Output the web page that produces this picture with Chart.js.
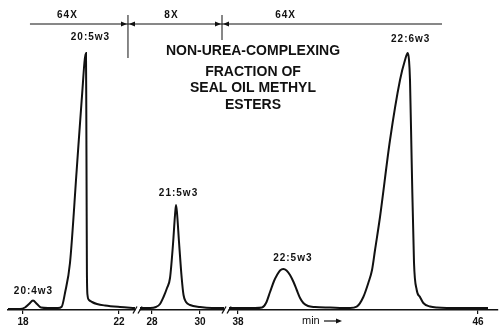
<!DOCTYPE html>
<html>
<head>
<meta charset="utf-8">
<script src="https://cdn.jsdelivr.net/npm/chart.js@4"></script>
<style>
  html, body { margin: 0; padding: 0; background: #fff; }
  canvas { display: block; }
</style>
</head>
<body>
<canvas id="chromatogram" width="500" height="327"></canvas>
<script>
// retention time (min) and detector response along the recorder trace
const traceMinutes = [
  17.375, 17.875, 18.083, 18.25, 18.417, 18.583, 18.75, 19.042, 19.458, 19.613,
  19.75, 19.958, 20.238, 20.446, 20.625, 20.638, 20.65, 20.663, 20.688, 20.75,
  20.875, 21.083, 21.417, 22.042, 22.667,
  27.5, 27.917, 28.167, 28.333, 28.479, 28.625, 28.75, 28.875, 28.958, 29.0,
  29.042, 29.125, 29.237, 29.313, 29.417, 29.583, 30.0, 30.5, 31.0,
  37.7, 38.567, 38.8, 38.933, 39.067, 39.2, 39.3, 39.4, 39.51, 39.617,
  39.733, 39.85, 39.957, 40.067, 40.177, 40.333, 40.567, 41.067, 41.733, 41.957,
  42.177, 42.343, 42.467, 42.567, 42.733, 43.067, 43.4, 43.567, 43.657, 43.7,
  43.733, 43.79, 43.867, 43.957, 44.067, 44.177, 44.4, 44.633, 45.4, 46.333
];
const traceResponse = [
  1, 1, 2.5, 6, 9.5, 6, 2.5, 2, 2, 3.3,
  17, 47, 140, 210, 257, 200, 120, 40, 15, 10,
  8, 6, 4.5, 3, 2,
  2, 2, 3, 6, 13, 22, 32, 66, 95, 105,
  97, 68, 32, 15, 8, 5, 3, 2, 2,
  2, 2, 2.5, 7, 18, 29, 35, 39.5, 41, 39.5,
  35, 28, 20, 12, 7, 4, 3, 2.5, 2, 3.3,
  13, 27, 40, 60, 93, 170, 230, 250, 257, 250,
  230, 147, 47, 20, 13, 7, 3.5, 2.5, 2, 2
];

// pieces of the time axis kept between the breaks; the last one ran at a faster chart speed
const segmentFrom = [17.375, 27.5, 37.7];
const segmentTo = [22.667, 31.0, 46.667];
const segmentStretch = [1, 1, 1.25];
const BREAK_GAP = 0.21;

const tickMinutes = [18, 22, 28, 30, 38, 46];

const peakNames = ['20:4w3', '20:5w3', '21:5w3', '22:5w3', '22:6w3'];
const peakMinutes = [18.417, 20.625, 29.0, 39.51, 43.657];
const peakLabelShift = [[0, -9.5], [4, -15.5], [2, -12], [9, -10.5], [2.5, -14]];

const attenuationLabels = ['64X', '8X', '64X'];
const attenuationStart = [18.29, 22.375, 30.917];
const attenuationEnd = [22.375, 30.917, 44.8];
const attenuationLabelAt = [19.83, 28.79, 39.57];

const titleLines = ['NON-UREA-COMPLEXING', 'FRACTION OF', 'SEAL OIL METHYL', 'ESTERS'];

const INK = '#111';
const FONT = '"Liberation Sans", Arial, sans-serif';

function segmentOf(t) {
  for (let i = 0; i < segmentTo.length; i++) {
    if (t <= segmentTo[i]) return i;
  }
  return segmentTo.length - 1;
}

// minutes -> position along the broken axis
function toAxis(t) {
  let pos = segmentFrom[0];
  for (let i = 0; i < segmentFrom.length; i++) {
    if (t <= segmentTo[i] || i === segmentFrom.length - 1) {
      return pos + (Math.max(t, segmentFrom[i]) - segmentFrom[i]) * segmentStretch[i];
    }
    pos += (segmentTo[i] - segmentFrom[i]) * segmentStretch[i] + BREAK_GAP;
  }
}

const points = [];
traceMinutes.forEach((t, i) => {
  if (i > 0 && segmentOf(t) !== segmentOf(traceMinutes[i - 1])) {
    points.push({ x: toAxis(t) - BREAK_GAP / 2, y: null });
  }
  points.push({ x: toAxis(t), y: traceResponse[i] });
});

function apexOf(t) {
  let best = 0;
  traceMinutes.forEach((m, i) => {
    if (Math.abs(m - t) < 0.15) best = Math.max(best, traceResponse[i]);
  });
  return best;
}

function arrowHead(ctx, tipX, y, dir) {
  ctx.beginPath();
  ctx.moveTo(tipX, y);
  ctx.lineTo(tipX - dir * 6, y - 2.5);
  ctx.lineTo(tipX - dir * 6, y + 2.5);
  ctx.closePath();
  ctx.fill();
}

const annotate = {
  id: 'annotate',
  afterDraw(chart) {
    const { ctx, scales: { x, y } } = chart;
    const px = t => x.getPixelForValue(toAxis(t));
    const base = y.getPixelForValue(0);
    ctx.save();
    ctx.strokeStyle = INK;
    ctx.fillStyle = INK;

    // breaks in the time axis
    for (let i = 0; i < segmentFrom.length - 1; i++) {
      const a = px(segmentTo[i]);
      const b = px(segmentFrom[i + 1]);
      ctx.fillStyle = '#fff';
      ctx.fillRect(a + 0.5, base - 3, b - a - 1, 6);
      ctx.fillStyle = INK;
      ctx.lineWidth = 1.3;
      [a, b].forEach(cx => {
        ctx.beginPath();
        ctx.moveTo(cx - 2, base + 3.5);
        ctx.lineTo(cx + 2, base - 3.5);
        ctx.stroke();
      });
    }

    // attenuation ranges along the top
    const lineY = 24;
    const markerBottom = [58, 40];
    ctx.lineWidth = 1;
    attenuationLabels.forEach((label, i) => {
      const x0 = px(attenuationStart[i]);
      const x1 = px(attenuationEnd[i]);
      ctx.beginPath();
      ctx.moveTo(x0, lineY);
      ctx.lineTo(x1, lineY);
      ctx.stroke();
      if (i > 0) arrowHead(ctx, x0 + 1, lineY, -1);
      if (i < attenuationLabels.length - 1) {
        arrowHead(ctx, x1 - 1, lineY, 1);
        ctx.beginPath();
        ctx.moveTo(x1, 15);
        ctx.lineTo(x1, markerBottom[i]);
        ctx.stroke();
      }
      ctx.font = 'bold 10px ' + FONT;
      ctx.letterSpacing = '1px';
      ctx.textAlign = 'center';
      ctx.textBaseline = 'middle';
      ctx.fillText(label, px(attenuationLabelAt[i]) + 0.5, 15);
    });

    // title block
    ctx.font = 'bold 14px ' + FONT;
    ctx.letterSpacing = '0px';
    const titleY = [51, 72, 88.5, 105];
    titleLines.forEach((line, i) => ctx.fillText(line, 253, titleY[i]));

    // peak names above each apex
    ctx.font = 'bold 10px ' + FONT;
    ctx.letterSpacing = '1px';
    peakNames.forEach((name, i) => {
      const cx = px(peakMinutes[i]) + peakLabelShift[i][0];
      const cy = y.getPixelForValue(apexOf(peakMinutes[i])) + peakLabelShift[i][1];
      ctx.fillText(name, cx + 0.5, cy);
    });

    // axis caption
    ctx.letterSpacing = '0px';
    ctx.font = '11px ' + FONT;
    ctx.textAlign = 'left';
    ctx.fillText('min', 302, 321);
    ctx.lineWidth = 1.2;
    ctx.beginPath();
    ctx.moveTo(324, 321);
    ctx.lineTo(338, 321);
    ctx.stroke();
    arrowHead(ctx, 342, 321, 1);
    ctx.restore();
  }
};

new Chart(document.getElementById('chromatogram'), {
  type: 'line',
  data: {
    datasets: [{
      data: points,
      borderColor: INK,
      borderWidth: 2,
      pointRadius: 0,
      cubicInterpolationMode: 'monotone',
      spanGaps: false,
      clip: false
    }]
  },
  options: {
    responsive: false,
    animation: false,
    devicePixelRatio: 1,
    layout: { padding: { left: 8, right: 2, top: 0, bottom: 0 } },
    plugins: { legend: { display: false }, tooltip: { enabled: false } },
    scales: {
      x: {
        type: 'linear',
        min: toAxis(segmentFrom[0]),
        max: toAxis(segmentTo[segmentTo.length - 1]),
        afterBuildTicks: scale => {
          scale.ticks = tickMinutes.map(t => ({ value: toAxis(t) }));
        },
        afterFit: scale => { scale.height = 17; },
        ticks: {
          autoSkip: false,
          maxRotation: 0,
          padding: 2,
          color: INK,
          font: { family: FONT, size: 10, weight: 'bold' },
          callback: (value, index) => String(tickMinutes[index])
        },
        grid: { drawOnChartArea: false, drawTicks: true, tickLength: 4, color: INK, lineWidth: 1.2 },
        border: { display: true, color: INK, width: 1.5 }
      },
      y: { display: false, min: 0, max: 310 }
    }
  },
  plugins: [annotate]
});
</script>
</body>
</html>
